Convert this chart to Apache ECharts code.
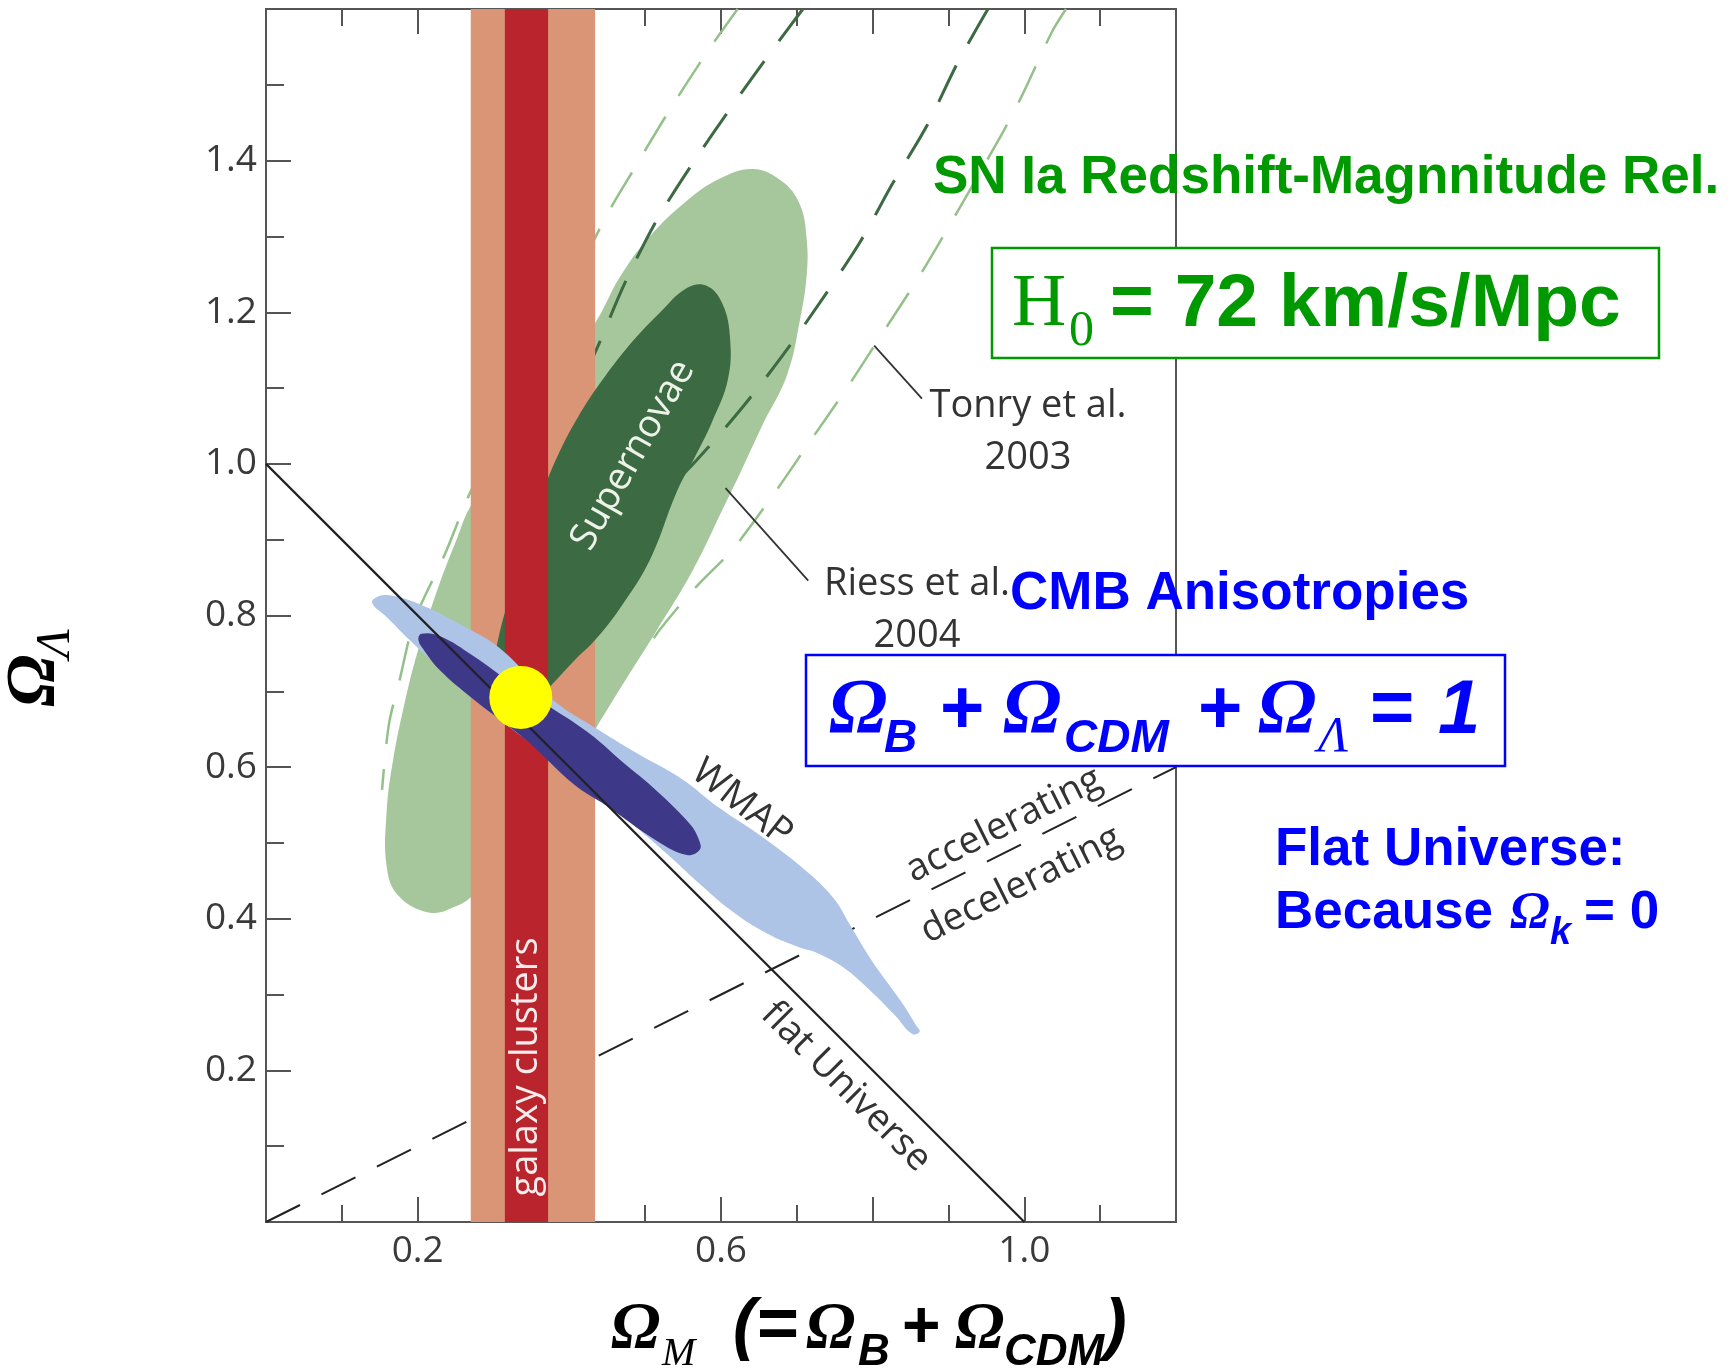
<!DOCTYPE html>
<html>
<head>
<meta charset="utf-8">
<title>Cosmological parameter constraints</title>
<script src="https://cdn.jsdelivr.net/npm/echarts@6/dist/echarts.min.js"></script>
<style>
  html, body { margin: 0; padding: 0; background: #ffffff; }
  #chart { width: 1735px; height: 1369px; }
</style>
</head>
<body>
<div id="chart"></div>
<script>
// Axis ranges and tick labels
const X_MIN = 0, X_MAX = 1.2, Y_MIN = 0, Y_MAX = 1.6;
const xTickLabels = ['0.2', '0.6', '1.0'];
const yTickLabels = ['0.2', '0.4', '0.6', '0.8', '1.0', '1.2', '1.4'];

// Galaxy cluster constraint on Omega_M (outer and inner bands)
const clusterOuter = [0.27, 0.434];
const clusterInner = [0.315, 0.372];

// Reference lines: flat universe (Omega_M + Omega_L = 1) and q0 = 0
const flatUniverse = [[0, 1], [1, 0]];
const accelBoundary = [[0, 0], [1.2, 0.6]];

// Concordance point
const concordance = [[0.336, 0.692]];

// Supernova confidence regions (outer and inner contours)
const snOuter = [
  [0.642, 1.389], [0.680, 1.373], [0.704, 1.342], [0.713, 1.296], [0.713, 1.249],
  [0.704, 1.189], [0.687, 1.117], [0.655, 1.052], [0.629, 0.996], [0.605, 0.946],
  [0.563, 0.860], [0.515, 0.780], [0.471, 0.710], [0.436, 0.653], [0.381, 0.563],
  [0.321, 0.478], [0.273, 0.431], [0.252, 0.417], [0.216, 0.408], [0.174, 0.431],
  [0.159, 0.470], [0.159, 0.540], [0.167, 0.606], [0.182, 0.681], [0.201, 0.756],
  [0.226, 0.834], [0.252, 0.902], [0.271, 0.946], [0.354, 1.066], [0.436, 1.189],
  [0.467, 1.247], [0.506, 1.300], [0.555, 1.347], [0.598, 1.376]
];
const snInner = [
  [0.581, 1.235], [0.602, 1.211], [0.612, 1.165], [0.609, 1.111], [0.588, 1.055],
  [0.565, 1.008], [0.542, 0.964], [0.506, 0.873], [0.467, 0.810], [0.436, 0.770],
  [0.407, 0.741], [0.378, 0.710], [0.354, 0.685], [0.332, 0.670], [0.312, 0.686],
  [0.300, 0.722], [0.306, 0.768], [0.324, 0.834], [0.348, 0.913], [0.370, 0.976],
  [0.390, 1.022], [0.411, 1.061], [0.436, 1.100], [0.476, 1.153], [0.519, 1.199],
  [0.555, 1.232]
];

// Earlier supernova samples (dashed contours, each drawn as two arms)
const tonryLeft = [
  [0.622, 1.600], [0.583, 1.545], [0.533, 1.468], [0.489, 1.395], [0.444, 1.318],
  [0.361, 1.144], [0.271, 0.966], [0.236, 0.881], [0.196, 0.794], [0.176, 0.714],
  [0.162, 0.656], [0.153, 0.570]
];
const tonryRight = [
  [1.055, 1.600], [1.036, 1.569], [0.998, 1.488], [0.972, 1.438], [0.912, 1.333],
  [0.865, 1.253], [0.816, 1.177], [0.766, 1.100], [0.717, 1.029], [0.668, 0.958],
  [0.616, 0.888], [0.575, 0.846], [0.552, 0.821], [0.519, 0.781], [0.510, 0.768]
];
const riessLeft = [
  [0.708, 1.600], [0.667, 1.545], [0.614, 1.471], [0.563, 1.397], [0.515, 1.321],
  [0.473, 1.238], [0.438, 1.156], [0.394, 1.058]
];
const riessRight = [
  [0.952, 1.600], [0.912, 1.529], [0.872, 1.447], [0.827, 1.371], [0.783, 1.292],
  [0.734, 1.218], [0.682, 1.144], [0.627, 1.073], [0.568, 1.005], [0.519, 0.953],
  [0.480, 0.900]
];

// CMB (WMAP) confidence regions
const wmapOuter = [
  [0.141, 0.821], [0.160, 0.827], [0.207, 0.813], [0.262, 0.785], [0.308, 0.757],
  [0.378, 0.689], [0.439, 0.649], [0.493, 0.616], [0.546, 0.586], [0.598, 0.546],
  [0.660, 0.504], [0.717, 0.459], [0.750, 0.425], [0.770, 0.392], [0.800, 0.343],
  [0.836, 0.293], [0.857, 0.260], [0.862, 0.251], [0.852, 0.248], [0.829, 0.273],
  [0.796, 0.306], [0.761, 0.336], [0.726, 0.355], [0.704, 0.362], [0.660, 0.381],
  [0.616, 0.409], [0.572, 0.446], [0.526, 0.488], [0.480, 0.528], [0.427, 0.574],
  [0.361, 0.623], [0.295, 0.673], [0.229, 0.731], [0.189, 0.768], [0.157, 0.800],
  [0.142, 0.813]
];
const wmapInner = [
  [0.205, 0.776], [0.229, 0.773], [0.273, 0.747], [0.328, 0.708], [0.378, 0.677],
  [0.427, 0.644], [0.471, 0.606], [0.515, 0.569], [0.559, 0.525], [0.571, 0.504],
  [0.572, 0.491], [0.555, 0.484], [0.515, 0.503], [0.449, 0.549], [0.405, 0.578],
  [0.344, 0.635], [0.273, 0.690], [0.229, 0.728], [0.207, 0.756], [0.201, 0.768]
];

// Leader lines from the dashed contours to their captions
const tonryLeader = [[0.802, 1.156], [0.865, 1.086]];
const riessLeader = [[0.606, 0.968], [0.715, 0.846]];

// ---------- series builders ----------
function areaSeries(name, pts, color, z) {
  return {
    name, type: 'custom', z, silent: true,
    coordinateSystem: 'cartesian2d',
    data: pts,
    encode: { x: 0, y: 1 },
    renderItem: function (params, api) {
      if (params.dataIndex !== 0) return null;
      return {
        type: 'polygon',
        shape: { points: pts.map(p => api.coord(p)), smooth: 0.4 },
        style: { fill: color }
      };
    }
  };
}

function bandSeries(name, range, color, z) {
  return {
    name, type: 'custom', z, silent: true,
    coordinateSystem: 'cartesian2d',
    data: [range],
    encode: { x: [0, 1] },
    renderItem: function (params, api) {
      const a = api.coord([api.value(0), Y_MAX]);
      const b = api.coord([api.value(1), Y_MIN]);
      return {
        type: 'rect',
        shape: { x: a[0], y: a[1], width: b[0] - a[0], height: b[1] - a[1] },
        style: { fill: color }
      };
    }
  };
}

function lineSeries(name, pts, color, width, dash, z, smooth) {
  return {
    name, type: 'line', data: pts, z, silent: true,
    showSymbol: false, symbol: 'none', smooth: smooth || false, clip: true,
    lineStyle: { color, width, type: dash || 'solid', cap: 'butt' }
  };
}

// ---------- text helpers (graphic layer) ----------
const K_SANS = 0.3465, K_SERIF = 0.3375, K_OPEN = 0.388;
function txt(text, x, baseline, font, fill, k) {
  const size = parseFloat(font.match(/(\d+(?:\.\d+)?)px/)[1]);
  return {
    type: 'text', x: x, y: baseline - k * size, z: 100, silent: true,
    style: { text, font, fill, textAlign: 'left', textVerticalAlign: 'middle', align: 'left', verticalAlign: 'middle' }
  };
}
function ctxt(text, cx, baseline, font, fill, k) {
  const e = txt(text, cx, baseline, font, fill, k);
  e.style.textAlign = 'center'; e.style.align = 'center';
  return e;
}
function rlabel(text, cx, cy, deg, size, fill) {
  return {
    type: 'text', x: cx, y: cy, rotation: deg * Math.PI / 180, z: 100, silent: true,
    style: { text, font: size + 'px "Open Sans"', fill, textAlign: 'center', textVerticalAlign: 'middle', align: 'center', verticalAlign: 'middle' }
  };
}
function box(x, y, w, h, stroke) {
  return { type: 'rect', z: 90, silent: true, shape: { x, y, width: w, height: h },
           style: { fill: '#ffffff', stroke, lineWidth: 2.5 } };
}

const GREEN = '#009900', BLUE = '#0000FF', INK = '#333333';
const SANS = '"Liberation Sans", Arial, sans-serif';
const SERIF = '"Liberation Serif", "Times New Roman", serif';
const OMEGA = 'Ω', LAMBDA = 'Λ';

const graphics = [
  // plot captions
  ctxt('Tonry et al.', 1028, 421, '38px "Open Sans"', INK, K_OPEN),
  ctxt('2003', 1028, 473, '38px "Open Sans"', INK, K_OPEN),
  ctxt('Riess et al.', 917, 599, '38px "Open Sans"', INK, K_OPEN),
  ctxt('2004', 917, 651, '38px "Open Sans"', INK, K_OPEN),
  rlabel('Supernovae', 633, 455, 60.3, 38, '#EEF3EA'),
  rlabel('galaxy clusters', 526, 1067, 90, 38, '#F7ECEC'),
  rlabel('WMAP', 742, 803, -38, 38, INK),
  rlabel('accelerating', 1004, 825, 26.57, 38, INK),
  rlabel('decelerating', 1021, 885, 26.57, 38, INK),
  rlabel('flat Universe', 846, 1087, -45, 38, INK),

  // SN Ia annotation
  txt('SN Ia Redshift-Magnnitude Rel.', 933, 197, 'bold 53px ' + SANS, GREEN, K_SANS),
  box(992, 248, 667, 110, GREEN),
  txt('H', 1012, 331, '75px ' + SERIF, GREEN, K_SERIF),
  txt('0', 1069, 349, '50px ' + SERIF, GREEN, K_SERIF),
  txt('= 72 km/s/Mpc', 1110, 331, 'bold 75px ' + SANS, GREEN, K_SANS),

  // CMB annotation
  txt('CMB Anisotropies', 1010, 613, 'bold 53px ' + SANS, BLUE, K_SANS),
  box(806, 655, 699, 111, BLUE),
  txt(OMEGA, 829, 738, 'italic bold 78px ' + SERIF, BLUE, K_SERIF),
  txt('B', 884, 755, 'italic bold 46px ' + SANS, BLUE, K_SANS),
  txt('+', 940, 738, 'bold 76px ' + SANS, BLUE, K_SANS),
  txt(OMEGA, 1003, 738, 'italic bold 78px ' + SERIF, BLUE, K_SERIF),
  txt('CDM', 1064, 755, 'italic bold 46px ' + SANS, BLUE, K_SANS),
  txt('+', 1198, 738, 'bold 76px ' + SANS, BLUE, K_SANS),
  txt(OMEGA, 1258, 738, 'italic bold 78px ' + SERIF, BLUE, K_SERIF),
  txt(LAMBDA, 1318, 755, 'italic 50px ' + SERIF, BLUE, K_SERIF),
  txt('=', 1370, 738, 'bold 76px ' + SANS, BLUE, K_SANS),
  txt('1', 1438, 738, 'italic bold 76px ' + SANS, BLUE, K_SANS),

  // flatness note
  txt('Flat Universe:', 1275, 869, 'bold 53px ' + SANS, BLUE, K_SANS),
  txt('Because', 1275, 932, 'bold 53px ' + SANS, BLUE, K_SANS),
  txt(OMEGA, 1510, 932, 'italic bold 53px ' + SERIF, BLUE, K_SERIF),
  txt('k', 1550, 947, 'italic bold 38px ' + SANS, BLUE, K_SANS),
  txt('= 0', 1584, 932, 'bold 53px ' + SANS, BLUE, K_SANS),

  // x-axis title
  txt(OMEGA, 611, 1352, 'italic bold 66px ' + SERIF, '#000', K_SERIF),
  txt('M', 662, 1368, 'italic 40px ' + SERIF, '#000', K_SERIF),
  txt('(', 733, 1352, 'italic bold 68px ' + SANS, '#000', K_SANS),
  txt('=', 757, 1352, 'bold 72px ' + SANS, '#000', K_SANS),
  txt(OMEGA, 806, 1352, 'italic bold 66px ' + SERIF, '#000', K_SERIF),
  txt('B', 858, 1368, 'italic bold 44px ' + SANS, '#000', K_SANS),
  txt('+', 902, 1352, 'bold 66px ' + SANS, '#000', K_SANS),
  txt(OMEGA, 955, 1352, 'italic bold 66px ' + SERIF, '#000', K_SERIF),
  txt('CDM', 1004, 1368, 'italic bold 44px ' + SANS, '#000', K_SANS),
  txt(')', 1104, 1352, 'italic bold 68px ' + SANS, '#000', K_SANS),

  // y-axis title (rotated)
  { type: 'group', x: 60, y: 707, rotation: Math.PI / 2, z: 100, children: [
      txt(OMEGA, 0, 0, 'italic bold 70px ' + SERIF, '#000', K_SERIF),
      txt(LAMBDA, 49, 13, 'italic 48px ' + SERIF, '#000', K_SERIF)
  ]}
];

// ---------- axes ----------
const AX = '#555555';
function xAxisCfg(position, withLabels) {
  return {
    type: 'value', position, min: X_MIN, max: X_MAX, interval: 0.2,
    axisLine: { show: true, onZero: false, lineStyle: { color: AX, width: 2 } },
    axisTick: { show: true, inside: true, length: 25, lineStyle: { color: AX, width: 2 } },
    minorTick: { show: true, splitNumber: 2, length: 17, lineStyle: { color: AX, width: 2 } },
    splitLine: { show: false },
    axisLabel: {
      show: withLabels, margin: 11, fontFamily: 'Open Sans', fontSize: 37, color: '#3a3a3a',
      formatter: v => { const s = v.toFixed(1); return xTickLabels.indexOf(s) >= 0 ? s : ''; }
    }
  };
}

const chart = echarts.init(document.getElementById('chart'), null, { renderer: 'canvas' });
chart.setOption({
  animation: false,
  backgroundColor: '#ffffff',
  grid: { left: 266, top: 9, width: 910, height: 1213, show: true,
          borderColor: AX, borderWidth: 2, backgroundColor: 'transparent' },
  xAxis: [xAxisCfg('bottom', true), xAxisCfg('top', false)],
  yAxis: {
    type: 'value', min: Y_MIN, max: Y_MAX, interval: 0.2,
    axisLine: { show: true, onZero: false, lineStyle: { color: AX, width: 2 } },
    axisTick: { show: true, inside: true, length: 25, lineStyle: { color: AX, width: 2 } },
    minorTick: { show: true, splitNumber: 2, length: 18, lineStyle: { color: AX, width: 2 } },
    splitLine: { show: false },
    axisLabel: {
      margin: 9, fontFamily: 'Open Sans', fontSize: 37, color: '#3a3a3a',
      formatter: v => { const s = v.toFixed(1); return yTickLabels.indexOf(s) >= 0 ? s : ''; }
    }
  },
  series: [
    areaSeries('Supernovae (outer)', snOuter, '#A5C79B', 2),
    lineSeries('Tonry et al. 2003 (left)', tonryLeft, '#93C189', 2.5, [40, 25], 3, 0.3),
    lineSeries('Tonry et al. 2003 (right)', tonryRight, '#93C189', 2.5, [40, 25], 3, 0.3),
    lineSeries('Riess et al. 2004 (left)', riessLeft, '#3C6A42', 3, [40, 25], 3, 0.3),
    lineSeries('Riess et al. 2004 (right)', riessRight, '#3C6A42', 3, [40, 25], 3, 0.3),
    lineSeries('accelerating / decelerating', accelBoundary, '#222222', 2, [38, 24], 3),
    bandSeries('galaxy clusters (outer)', clusterOuter, '#DA9476', 4),
    areaSeries('Supernovae (inner)', snInner, '#3C6A42', 5),
    bandSeries('galaxy clusters (inner)', clusterInner, '#BA242C', 6),
    areaSeries('WMAP (outer)', wmapOuter, '#AEC4E6', 7),
    areaSeries('WMAP (inner)', wmapInner, '#3E3888', 8),
    lineSeries('flat Universe', flatUniverse, '#222222', 2.2, 'solid', 9),
    lineSeries('Tonry leader', tonryLeader, '#333333', 1.8, 'solid', 9),
    lineSeries('Riess leader', riessLeader, '#333333', 1.8, 'solid', 9),
    { name: 'concordance', type: 'scatter', data: concordance, symbol: 'circle',
      symbolSize: 63, itemStyle: { color: '#FFFF00', opacity: 1 }, z: 10, silent: true }
  ],
  graphic: graphics
});
</script>
</body>
</html>
